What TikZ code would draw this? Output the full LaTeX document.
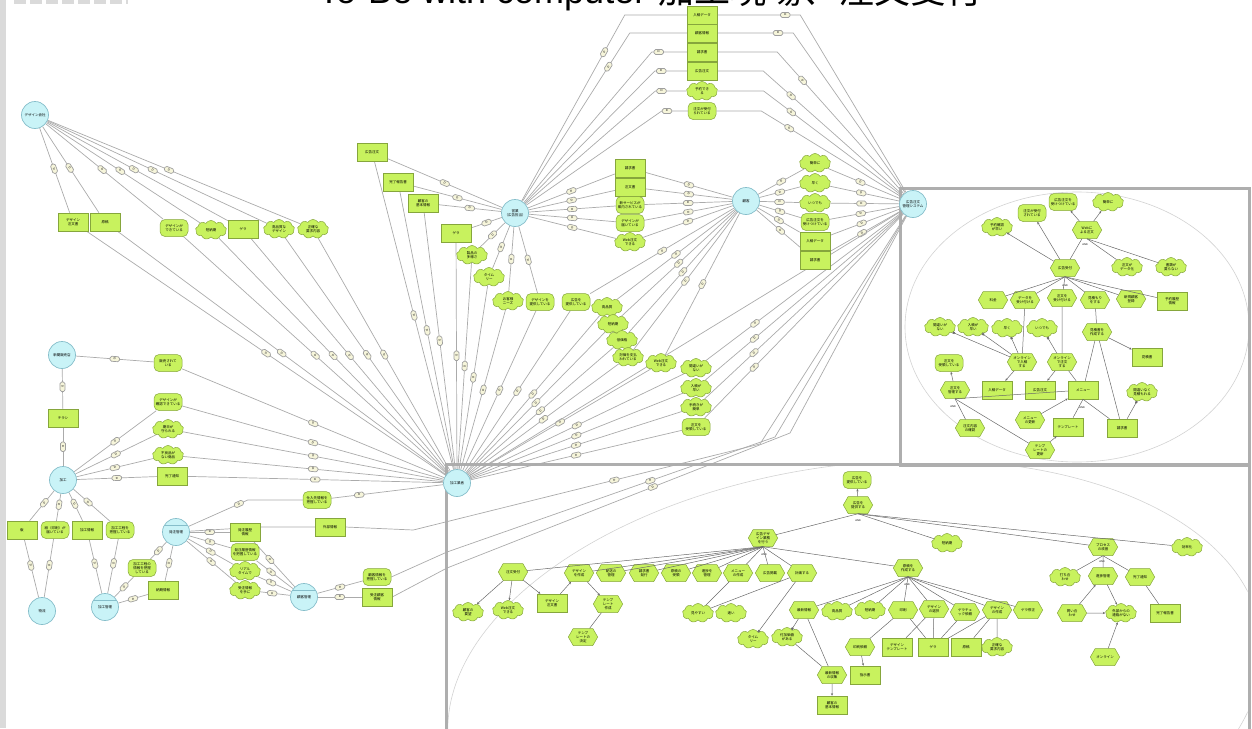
\documentclass[tikz,border=0pt]{standalone}
\usepackage{fontspec}
\setmainfont{Liberation Sans}
\newfontfamily\jp{Noto Sans CJK JP}
\usetikzlibrary{shapes.symbols,arrows.meta,calc}
\pgfdeclarelayer{edges}
\pgfsetlayers{edges,main}
\definecolor{nodegreen}{HTML}{C8F25E}
\definecolor{nodeedge}{HTML}{86A63C}
\definecolor{actorfill}{HTML}{C9F3F7}
\definecolor{actoredge}{HTML}{86BECA}
\definecolor{linkgray}{HTML}{ABABAB}
\definecolor{boxgray}{HTML}{AEAEAE}
\definecolor{ellgray}{HTML}{D2D2D2}
\definecolor{innergray}{HTML}{6A6A6A}
\definecolor{markfill}{HTML}{F6F5DA}
\definecolor{stripgray}{HTML}{DADADA}
\tikzset{
  every node/.style={font=\jp\fontsize{3.5}{4}\selectfont, align=center, inner sep=0.5pt},
  actor/.style={circle, draw=actoredge, fill=actorfill, line width=0.7pt, minimum size=27pt, text width=21pt},
  res/.style={rectangle, draw=nodeedge, fill=nodegreen, line width=0.5pt, minimum width=30pt, minimum height=18pt, text width=27pt},
  goal/.style={rectangle, rounded corners=5pt, draw=nodeedge, fill=nodegreen, line width=0.5pt, minimum width=28pt, minimum height=17pt, text width=26pt},
  soft/.style={cloud, cloud puffs=9, cloud puff arc=120, aspect=1.7, draw=nodeedge, fill=nodegreen, line width=0.5pt, minimum width=31pt, minimum height=19pt, inner sep=0pt, text width=18pt},
  task/.style={signal, signal to=east and west, signal pointer angle=120, draw=nodeedge, fill=nodegreen, line width=0.5pt, minimum width=29pt, minimum height=17pt, inner sep=0.3pt, text width=19pt},
  dmk/.style={draw=gray!75, fill=markfill, rounded corners=1.6pt, minimum width=9.5pt, minimum height=5pt, inner sep=0pt, font=\fontsize{2.8}{3}\selectfont, sloped},
  lnk/.style={draw=linkgray, line width=0.7pt},
  inl/.style={draw=innergray, line width=0.5pt},
  arr/.style={inl, -{Stealth[length=2.6pt,width=2.2pt]}},
  sqend/.style={inl, -{Square[length=2pt,width=2pt]}},
  andl/.style={font=\fontsize{2.6}{3}\selectfont, inner sep=0pt},
}
\newcommand\deplink[3][0.5]{\draw[lnk] (#2) -- node[dmk,pos=#1]{D} (#3);}
\newcommand\innerline[2]{\draw[inl] (#1) -- (#2);}
\newcommand\innerarrow[2]{\draw[arr] (#1) -- (#2);}
\newcommand\innersq[2]{\draw[sqend] (#1) -- (#2);}
\begin{document}
\begin{tikzpicture}[x=1pt,y=-1pt]
\useasboundingbox (0,0) rectangle (1252,728);
% page decorations
\fill[stripgray] (0,0) rectangle (6,728);
\draw[stripgray, line width=4pt, dash pattern=on 12pt off 4pt] (14,2) -- (128,2);
\node[anchor=base west, font=\fontsize{36}{40}\selectfont, inner sep=0pt] (title) at (318,4) {To-Be with computer\hspace{12pt}{\jp 加工現場、注文受付}};

% ---------- actors ----------
\node[actor] (dz) at (35,115) {デザイン会社};
\node[actor] (yg) at (515,213) {営業\\（広告担当）};
\node[actor] (kk) at (746,201) {顧客};
\node[actor] (sys) at (913,204) {広告注文\\管理システム};
\node[actor] (hub) at (457,483) {加工業者};
\node[actor] (sh) at (62,355) {新聞販売店};
\node[actor] (ka) at (63,480) {加工};
\node[actor] (bu) at (42,611) {物流};
\node[actor] (km) at (105,607) {加工管理};
\node[actor] (hk) at (176,532) {発注管理};
\node[actor] (kc) at (304,597) {顧客管理};
\draw[actoredge, line width=0.6pt] (km.150) -- (km.30) (hk.150) -- (hk.30) (kc.150) -- (kc.30);

% ---------- design company dependums ----------
\node[res] (dz1) at (73,222) {デザイン\\注文書};
\node[res] (dz2) at (105,222) {原稿};
\node[goal] (dz3) at (174,228) {デザインが\\できている};
\node[soft] (dz4) at (211,230) {短納期};
\node[res] (dz5) at (243,229) {ゲラ};
\node[soft] (dz6) at (279,229) {高品質な\\デザイン};
\node[soft] (dz7) at (313,229) {正確な\\要求内容};

% ---------- sales dependums ----------
\node[res] (e1) at (372,152) {広告注文};
\node[res] (e2) at (398,182) {完了報告書};
\node[res] (e3) at (423,203) {顧客の\\基本情報};
\node[res] (e4) at (456,233) {ゲラ};
\node[soft] (e5) at (472,255) {製品の\\多様さ};
\node[soft] (e6) at (489,277) {タイム\\リー};
\node[soft] (e7) at (508,301) {お客様\\ニーズ};
\node[goal] (e8) at (540,302) {デザインを\\提供している};

\node[res] (t1) at (702,15) {入稿データ};
\node[res] (t2) at (702,33) {顧客情報};
\node[res] (t3) at (702,52) {請求書};
\node[res] (t4) at (702,71) {広告注文};
\node[soft] (t5) at (702,91) {予約でき\\る};
\node[goal] (t6) at (702,111) {注文が受付\\られている};

\node[res] (m1) at (630,168) {請求書};
\node[res] (m2) at (630,187) {注文書};
\node[goal] (m3) at (630,205) {新サービスが\\案内されている};
\node[goal] (m4) at (630,223) {デザインが\\届いている};
\node[soft] (m5) at (630,242) {Web注文\\できる};

\node[soft] (r1) at (815,163) {簡単に};
\node[soft] (r2) at (815,183) {早く};
\node[soft] (r3) at (815,203) {いつでも};
\node[goal] (r4) at (815,222) {広告注文を\\受けつけている};
\node[res] (r5) at (815,241) {入稿データ};
\node[res] (r6) at (815,260) {請求書};

\node[goal] (c1) at (576,302) {広告を\\提供している};
\node[soft] (c2) at (607,307) {高品質};
\node[soft] (c3) at (613,324) {短納期};
\node[soft] (c4) at (622,340) {低価格};
\node[soft] (c5) at (628,357) {対価を支払\\われている};
\node[soft] (c6) at (661,363) {Web注文\\できる};
\node[soft] (s1) at (696,368) {間違いが\\ない};
\node[soft] (s2) at (696,388) {入稿が\\早い};
\node[soft] (s3) at (696,407) {手続きが\\簡単};
\node[goal] (s4) at (696,427) {注文を\\受領している};

% ---------- production side ----------
\node[goal] (sh1) at (168,363) {販売されて\\いる};
\node[res] (ch) at (63,418) {チラシ};
\node[goal] (k1) at (168,402) {デザインが\\確認できている};
\node[soft] (k2) at (168,429) {期日が\\守られる};
\node[soft] (k3) at (168,455) {不良品が\\ない商品};
\node[res] (k4) at (172,476) {完了通知};
\node[res] (k5) at (22,530) {版};
\node[goal] (k6) at (55,530) {紙（印刷）が\\届いている};
\node[res] (k7) at (87,530) {加工情報};
\node[goal] (k8) at (120,530) {加工工程を\\把握している};
\node[goal] (k9) at (142,568) {加工工程の\\情報を把握\\している};
\node[res] (k10) at (163,590) {納期情報};
\node[res] (h1) at (245,532) {発注履歴\\情報};
\node[goal] (h2) at (245,552) {発注履歴情報\\を把握している};
\node[soft] (h3) at (245,571) {リアル\\タイムで};
\node[soft] (h4) at (245,590) {受注情報\\を手に};
\node[goal] (h5) at (317,500) {仕入先情報を\\把握している};
\node[res] (h6) at (330,527) {外部情報};
\node[goal] (h7) at (377,577) {顧客情報を\\把握している};
\node[res] (h8) at (377,597) {受注顧客\\情報};

% ---------- order system boundary ----------
\node[soft] (q1) at (997,227) {予約確認\\が早い};
\node[goal] (q2) at (1032,213) {注文が受付\\されている};
\node[goal] (q3) at (1063,202) {広告注文を\\受けつけている};
\node[soft] (q4) at (1108,202) {簡単に};
\node[task] (q5) at (1087,230) {Webに\\よる注文};
\node[task] (q6) at (1065,268) {広告受付};
\node[soft] (q7) at (1127,267) {注文が\\データ化};
\node[soft] (q8) at (1171,267) {書類が\\要らない};
\node[task] (q9) at (993,300) {料金};
\node[task] (q10) at (1025,300) {データを\\受け付ける};
\node[task] (q11) at (1062,298) {注文を\\受け付ける};
\node[task] (q12) at (1095,300) {見積もり\\をする};
\node[task] (q13) at (1131,299) {新規顧客\\登録};
\node[res] (q14) at (1172,301) {予約履歴\\情報};
\node[soft] (q15) at (940,327) {間違いが\\ない};
\node[soft] (q16) at (973,327) {入稿が\\早い};
\node[soft] (q17) at (1007,328) {早く};
\node[soft] (q18) at (1042,328) {いつでも};
\node[task] (q19) at (1097,332) {見積書を\\作成する};
\node[task] (q20) at (1022,362) {オンライン\\で入稿\\する};
\node[task] (q21) at (1062,362) {オンライン\\で注文\\する};
\node[res] (q22) at (1147,357) {見積書};
\node[goal] (q23) at (949,363) {注文を\\受領している};
\node[task] (q24) at (955,390) {注文を\\管理する};
\node[res] (q25) at (997,390) {入稿データ};
\node[res] (q26) at (1040,390) {広告注文};
\node[res] (q27) at (1083,390) {メニュー};
\node[soft] (q28) at (1142,392) {間違いなく\\見積もれる};
\node[task] (q29) at (970,428) {注文内容\\の確認};
\node[task] (q30) at (1030,420) {メニュー\\の更新};
\node[res] (q31) at (1068,427) {テンプレート};
\node[res] (q32) at (1122,428) {請求書};
\node[task] (q33) at (1040,450) {テンプ\\レートの\\更新};
\node[andl] (qa1) at (1085,245) {AND};
\node[andl] (qa2) at (1065,286) {AND};
\node[andl] (qa3) at (953,407) {AND};
\node[andl] (qa4) at (1082,408) {AND};

% ---------- production boundary ----------
\node[goal] (w1) at (857,480) {広告を\\提供している};
\node[task] (w2) at (858,505) {広告を\\提供する};
\node[task] (w3) at (763,538) {広告デザ\\イン業務\\を行う};
\node[soft] (w4) at (947,543) {短納期};
\node[task] (w5) at (1103,547) {プロセス\\の改善};
\node[soft] (w6) at (1187,547) {効率化};
\node[task] (w7) at (513,572) {注文受付};
\node[task] (w8) at (579,573) {デザイン\\を作成};
\node[task] (w9) at (611,573) {配送の\\管理};
\node[task] (w10) at (644,573) {請求書\\発行};
\node[task] (w11) at (676,573) {原稿の\\受領};
\node[task] (w12) at (707,573) {進捗を\\管理};
\node[task] (w13) at (738,573) {メニュー\\の作成};
\node[task] (w14) at (770,573) {広告掲載};
\node[task] (w15) at (802,573) {計画する};
\node[task] (w16) at (908,568) {原稿を\\作成する};
\node[soft] (w17) at (468,612) {顧客の\\要望};
\node[soft] (w18) at (508,610) {Web注文\\できる};
\node[res] (w19) at (552,603) {デザイン\\注文書};
\node[task] (w20) at (608,604) {テンプ\\レート\\作成};
\node[task] (w21) at (583,637) {テンプ\\レートの\\決定};
\node[soft] (w22) at (698,613) {見やすい};
\node[soft] (w23) at (731,613) {速い};
\node[task] (w24) at (804,610) {最新情報};
\node[soft] (w25) at (837,611) {高品質};
\node[soft] (w26) at (753,639) {タイム\\リー};
\node[soft] (w27) at (787,637) {付加価値\\がある};
\node[task] (w28) at (832,675) {最新情報\\の収集};
\node[res] (w29) at (832,705) {顧客の\\基本情報};
\node[soft] (w30) at (870,610) {短納期};
\node[task] (w31) at (903,610) {印刷};
\node[task] (w32) at (934,609) {デザイン\\の選択};
\node[task] (w33) at (965,612) {ゲラチェ\\ック依頼};
\node[task] (w34) at (997,610) {デザイン\\の作成};
\node[task] (w35) at (1028,610) {ゲラ修正};
\node[task] (w36) at (860,647) {印刷依頼};
\node[res] (w37) at (897,647) {デザイン\\テンプレート};
\node[res] (w38) at (933,647) {ゲラ};
\node[res] (w39) at (966,647) {原稿};
\node[soft] (w40) at (997,647) {正確な\\要求内容};
\node[res] (w41) at (865,675) {指示書};
\node[soft] (w42) at (1065,577) {打ち合\\わせ};
\node[task] (w43) at (1103,576) {進捗管理};
\node[task] (w44) at (1140,577) {完了通知};
\node[task] (w45) at (1072,613) {問い合\\わせ};
\node[soft] (w46) at (1121,613) {外部からの\\連絡がない};
\node[res] (w47) at (1165,613) {完了報告書};
\node[task] (w48) at (1105,657) {オンライン};
\node[andl] (wa1) at (858,521) {AND};
\node[andl] (wa2) at (764,555) {AND};
\node[andl] (wa3) at (907,585) {AND};
\node[andl] (wa4) at (1102,562) {AND};

\begin{pgfonlayer}{edges}
% boundaries
\draw[ellgray, line width=0.6pt] (1077,327) ellipse [x radius=172pt, y radius=135pt];
\begin{scope}
  \clip (447.5,465.5) rectangle (1247.5,728);
  \draw[ellgray, line width=0.6pt, rotate around={8:(855,690)}] (855,690) ellipse [x radius=410pt, y radius=225pt];
\end{scope}
\draw[boxgray, line width=3pt] (900,188) rectangle (1249,465);
\draw[boxgray, line width=3pt] (446,740) -- (446,464) -- (1249,464) -- (1249,740);

% design company
\foreach \n in {dz1,dz2,dz3,dz4,dz5,dz6,dz7}{\deplink[0.48]{dz}{\n}}
\foreach \n in {dz1,dz2,dz3,dz4,dz5,dz6,dz7}{\deplink[0.5]{\n}{hub}}
% sales
\foreach \n in {e1,e2,e3,e4,e5,e6,e7,e8}{\deplink[0.5]{yg}{\n}}
\foreach \n in {e1,e2,e3,e4,e5,e6,e7,e8}{\deplink[0.5]{\n}{hub}}
\draw[lnk] (yg) -- node[dmk,pos=0.8]{D} ([xshift=-62pt]t1.west) -- (t1.west);
\draw[lnk] (yg) -- node[dmk,pos=0.8]{D} ([xshift=-57pt]t2.west) -- (t2.west);
\draw[lnk] (yg) -- ([xshift=-35pt]t3.west) -- node[dmk,pos=0.2]{D} (t3.west);
\draw[lnk] (yg) -- ([xshift=-32pt]t4.west) -- node[dmk,pos=0.2]{D} (t4.west);
\draw[lnk] (yg) -- ([xshift=-31pt]t5.west) -- node[dmk,pos=0.2]{D} (t5.west);
\draw[lnk] (yg) -- ([xshift=-26pt]t6.west) -- node[dmk,pos=0.2]{D} (t6.west);
\draw[lnk] (t1.east) -- node[dmk,pos=0.82]{D} ([xshift=83pt]t1.east) -- (sys);
\draw[lnk] (t2.east) -- node[dmk,pos=0.8]{D} ([xshift=76pt]t2.east) -- (sys);
\draw[lnk] (t3.east) -- ([xshift=60pt]t3.east) -- node[dmk,pos=0.2]{D} (sys);
\draw[lnk] (t4.east) -- ([xshift=46pt]t4.east) -- node[dmk,pos=0.2]{D} (sys);
\draw[lnk] (t5.east) -- ([xshift=46pt]t5.east) -- node[dmk,pos=0.2]{D} (sys);
\draw[lnk] (t6.east) -- ([xshift=45pt]t6.east) -- node[dmk,pos=0.2]{D} (sys);
\foreach \n in {m1,m2,m3,m4,m5}{\deplink[0.5]{yg}{\n}\deplink[0.5]{\n}{kk}}
% customer and system
\foreach \n in {r1,r2,r3,r4,r5,r6}{\deplink[0.5]{kk}{\n}\deplink[0.45]{\n}{sys}}
\foreach \n in {c1,c2,c3,c4,c5,c6}{\deplink[0.5]{kk}{\n}\deplink[0.5]{\n}{hub}}
\foreach \n in {s1,s2,s3,s4}{\deplink[0.5]{hub}{\n}\deplink[0.25]{\n}{sys}}
% newspaper shop and processing
\deplink{sh}{sh1}
\deplink{sh1}{hub}
\deplink[0.45]{sh}{ch}
\deplink{ch}{ka}
\foreach \n in {k1,k2,k3,k4}{\deplink[0.5]{ka}{\n}\deplink[0.5]{\n}{hub}}
\foreach \n in {k5,k6,k7,k8}{\deplink[0.4]{ka}{\n}}
\deplink[0.45]{k5}{bu}
\deplink[0.45]{k6}{bu}
\deplink[0.45]{k7}{km}
\deplink[0.45]{k8}{km}
\deplink{km}{k9}
\deplink{k9}{hk}
\deplink{km}{k10}
\deplink{k10}{hk}
\foreach \n in {h1,h2,h3,h4}{\deplink[0.5]{hk}{\n}\deplink[0.4]{\n}{kc}}
\draw[lnk] (hk) -- node[dmk,pos=0.85]{D} ([xshift=-55pt]h5.west) -- (h5.west);
\deplink[0.25]{h5}{hub}
\draw[lnk] (hk) -- node[dmk,pos=0.85]{D} ([xshift=-55pt]h6.west) -- (h6.west);
\deplink{kc}{h7}
\deplink{kc}{h8}
\draw[lnk] (h6.east) -- ([xshift=68pt,yshift=-3pt]h6.east) -- node[dmk,pos=0.58]{D} (760,444) -- (sys);
\draw[lnk] (h7.east) -- (447,552) -- node[dmk,pos=0.62]{D} (775,437) -- (sys);
\draw[lnk] (h8.east) -- (447,568) -- node[dmk,pos=0.6]{D} (790,433) -- (sys);
\draw[lnk] (hub) -- node[dmk,pos=0.82]{D} (sys);
\end{pgfonlayer}

% ---------- links inside the order system ----------
\innerarrow{q6}{q1}
\innerarrow{q6}{q2}
\innerline{q6}{q5}
\innerarrow{q5}{q3}
\innerarrow{q5}{q4}
\innerline{q5.south}{q7}
\innerline{q5.south}{q8}
\foreach \n in {q9,q10,q11,q12,q13,q14}{\innerline{q6.south}{\n}}
\innerline{q10}{q20}
\innerline{q11}{q21}
\innerline{q12}{q19}
\innersq{q20}{q15}
\innersq{q20}{q16}
\innersq{q20}{q17}
\innersq{q21}{q18}
\innerarrow{q20}{q25}
\innerarrow{q21}{q26}
\innerline{q21}{q27}
\innerarrow{q19}{q22}
\innerline{q19}{q27}
\innerline{q19}{q32}
\innerarrow{q24}{q23}
\innerline{q24.south}{q29}
\innerline{q24.south}{q27}
\innerline{q24.south}{q33}
\innerarrow{q30}{q27}
\innerline{q27.south}{q31}
\innerline{q27.south}{q32}
\innersq{q32}{q28}
\innerarrow{q33}{q31}

% ---------- links inside the production boundary ----------
\innerarrow{w2}{w1}
\foreach \n in {w3,w4,w5,w6}{\innerline{w2.south}{\n}}
\foreach \n in {w7,w8,w9,w10,w11,w12,w13,w14,w15,w16}{\innerline{w3.south}{\n}}
\innerarrow{w7}{w17}
\innerarrow{w7}{w18}
\innerarrow{w7}{w19}
\innerarrow{w19}{w8}
\innerarrow{w8}{w20}
\innerline{w20}{w21}
\innerline{w13}{w22}
\innerline{w15}{w22}
\innersq{w15}{w26}
\innersq{w24}{w27}
\innerline{w24}{w28}
\innerline{w27}{w28}
\innerarrow{w28}{w29}
\foreach \n in {w24,w25,w30,w31,w32,w33,w34,w35}{\innerline{w16.south}{\n}}
\innerline{w31}{w36}
\innerline{w31}{w38}
\innerarrow{w36}{w41}
\innerline{w32}{w37}
\innerline{w32}{w38}
\innerline{w33}{w38}
\innerline{w34}{w38}
\innerline{w34}{w39}
\innerline{w34}{w40}
\foreach \n in {w42,w43,w44}{\innerline{w5.south}{\n}}
\innerarrow{w43}{w46}
\innerarrow{w45}{w43}
\innerarrow{w45}{w46}
\innerarrow{w48}{w46}
\innerline{w44}{w47}
\end{tikzpicture}
\end{document}
